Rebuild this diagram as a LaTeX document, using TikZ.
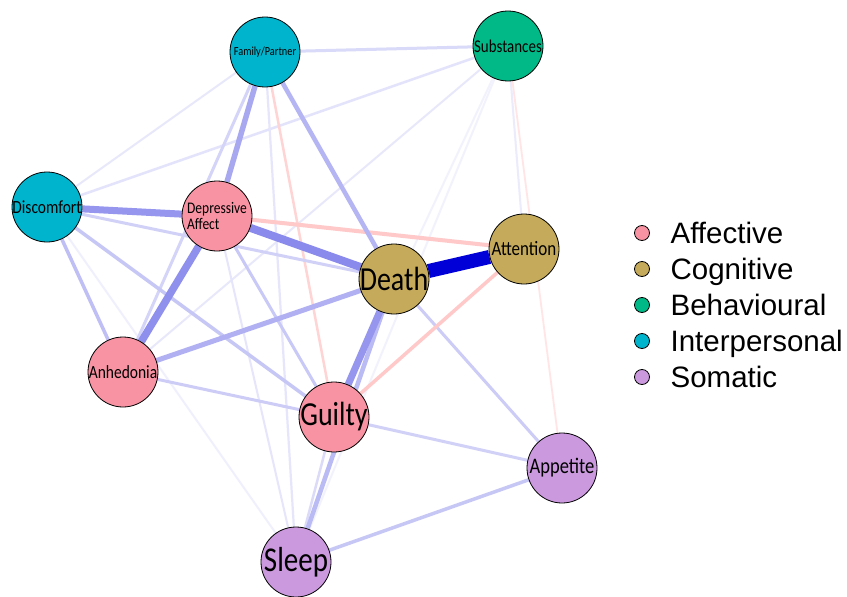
\documentclass[tikz,border=0pt]{standalone}
\usepackage{fontspec}
\setmainfont{Carlito}
\newfontfamily\keyfont{Liberation Sans}
\usetikzlibrary{positioning, backgrounds}

\definecolor{affective}{RGB}{248,147,163}
\definecolor{cognitive}{RGB}{196,170,90}
\definecolor{behavioural}{RGB}{0,185,135}
\definecolor{interpersonal}{RGB}{0,180,205}
\definecolor{somatic}{RGB}{203,153,222}
\definecolor{netblue}{RGB}{0,0,215}
\definecolor{netred}{RGB}{255,0,0}

\begin{document}
\begin{tikzpicture}[x=1pt, y=-1pt,
	item/.style={circle, draw=black, line width=0.8pt, minimum size=70pt, inner sep=0pt},
	lab/.style={font=\fontsize{#1}{#1}\selectfont, inner sep=0pt, yscale=1.2, transform shape},
	plink/.style 2 args={draw=netblue!#2, line width=#1pt},
	nlink/.style 2 args={draw=netred!#2, line width=#1pt},
	key/.style={circle, draw=black, line width=0.8pt, minimum size=15pt, inner sep=0pt},
	keytext/.style={font=\keyfont\fontsize{29.5}{30}\selectfont, inner sep=0pt, text height=27pt, text depth=6pt}]

	\useasboundingbox (0,0) rectangle (847,597);

	\node[item, fill=interpersonal, label={[lab=10.3]center:Family/Partner}] (famp) at (265,52) {};
	\node[item, fill=behavioural, label={[lab=15]center:Substances}] (subst) at (508,46) {};
	\node[item, fill=interpersonal, label={[lab=15.5]center:Discomfort}] (discom) at (47,207) {};
	\node[item, fill=affective, label={[lab=13.5, align=left]center:Depressive\\Affect}] (depaff) at (217,216) {};
	\node[item, fill=cognitive, label={[lab=17]center:Attention}] (atten) at (524,249) {};
	\node[item, fill=cognitive, label={[lab=28]center:Death}] (death) at (394,279) {};
	\node[item, fill=affective, label={[lab=15.5]center:Anhedonia}] (anhed) at (123,372) {};
	\node[item, fill=affective, label={[lab=28]center:Guilty}] (guilty) at (334,417) {};
	\node[item, fill=somatic, label={[lab=18.5]center:Appetite}] (appet) at (562,468) {};
	\node[item, fill=somatic, label={[lab=29]center:Sleep}] (sleep) at (296,562) {};

	\begin{scope}[on background layer]
	\fill[white] (0,0) rectangle (847,597);
	\path
		(subst) edge[plink={2}{5}] (guilty)
		(subst) edge[plink={2}{5}] (sleep)
		(discom) edge[plink={2}{6}] (sleep)
		(famp) edge[plink={2}{9}] (discom)
		(discom) edge[plink={2.5}{11}] (subst)
		(subst) edge[plink={2}{9}] (anhed)
		(famp) edge[plink={2.2}{10}] (sleep)
		(depaff) edge[plink={2}{10}] (sleep)
		(subst) edge[plink={2}{8}] (atten)
		(guilty) edge[plink={2.5}{14}] (sleep)
		(subst) edge[nlink={1.8}{10}] (appet)
		(famp) edge[nlink={2.5}{17}] (guilty)

		(famp) edge[plink={3}{15}] (subst)
		(famp) edge[plink={3}{17}] (anhed)
		(discom) edge[plink={3}{18}] (death)
		(discom) edge[plink={3.5}{22}] (guilty)
		(depaff) edge[plink={3}{21}] (guilty)
		(anhed) edge[plink={3}{20}] (guilty)
		(guilty) edge[plink={3}{18}] (appet)
		(death) edge[plink={3}{20}] (appet)
		(sleep) edge[plink={3.5}{22}] (appet)
		(discom) edge[plink={3.5}{25}] (anhed)
		(atten) edge[nlink={3.5}{21}] (guilty)
		(depaff) edge[nlink={4}{21}] (atten)

		(famp) edge[plink={4.5}{29}] (death)
		(death) edge[plink={4.5}{27}] (sleep)
		(anhed) edge[plink={5}{31}] (death)
		(famp) edge[plink={5.5}{34}] (depaff)
		(death) edge[plink={7}{41}] (guilty)
		(discom) edge[plink={7}{41}] (depaff)
		(depaff) edge[plink={7.5}{44}] (anhed)
		(depaff) edge[plink={8}{46}] (death)
		(death) edge[plink={14}{100}] (atten)
		;
	\end{scope}

	\node[key, fill=affective] (kaff) at (642,233) {};
	\node[key, fill=cognitive] (kcog) at (642,269) {};
	\node[key, fill=behavioural] (kbeh) at (642,305) {};
	\node[key, fill=interpersonal] (kint) at (642,341) {};
	\node[key, fill=somatic] (ksom) at (642,377) {};
	\node[keytext, right=20.5pt of kaff] (taff) {Affective};
	\node[keytext, right=20.5pt of kcog] (tcog) {Cognitive};
	\node[keytext, right=20.5pt of kbeh] (tbeh) {Behavioural};
	\node[keytext, right=20.5pt of kint] (tint) {Interpersonal};
	\node[keytext, right=20.5pt of ksom] (tsom) {Somatic};
\end{tikzpicture}
\end{document}
